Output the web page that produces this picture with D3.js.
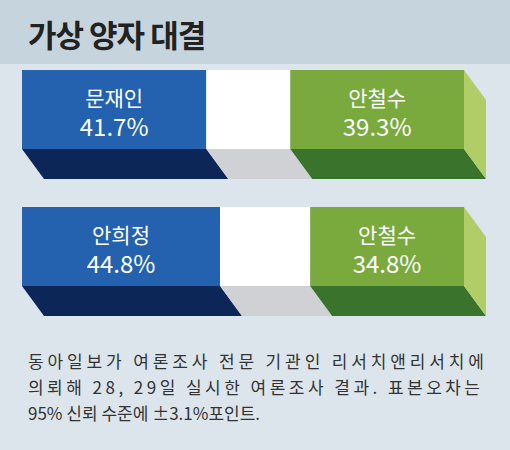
<!DOCTYPE html><html><head><meta charset="utf-8"><script src="https://cdn.jsdelivr.net/npm/d3@7"></script>
<style>body{margin:0}svg{display:block}</style></head><body><script>
const leftNames=["문재인","안희정"];
const leftValues=[41.7,44.8];
const rightNames=["안철수","안철수"];
const rightValues=[39.3,34.8];
const title="가상 양자 대결";
const notes=["동아일보가 여론조사 전문 기관인 리서치앤리서치에","의뢰해 28, 29일 실시한 여론조사 결과. 표본오차는","95% 신뢰 수준에 ±3.1%포인트."];
const noteWidths=[456,452,null];

const W=510,H=450;
const svg=d3.select("body").append("svg").attr("width",W).attr("height",H);
const font="'Noto Sans CJK KR','Noto Sans',sans-serif";
svg.append("rect").attr("width",W).attr("height",H).attr("fill","#dce5ec");
svg.append("rect").attr("width",W).attr("height",64).attr("fill","#c6d4de");
svg.append("text").attr("x",28).attr("y",47).text(title).attr("font-family",font)
  .attr("font-size",31).attr("font-weight",700).attr("fill","#222").attr("letter-spacing",-1);

const x=d3.scaleLinear().domain([0,100]).range([22,464]);
const y=d3.scalePoint().domain([0,1]).range([70,207]);
const dx=22,dy=30;
leftNames.forEach((n,i)=>{
  const top=y(i), fh=79, bot=top+fh;
  const segs=[
    {a:0,b:leftValues[i],f:"#2461ae",s:"#0c2658"},
    {a:leftValues[i],b:100-rightValues[i],f:"#ffffff",s:"#cfd1d4"},
    {a:100-rightValues[i],b:100,f:"#7aaa3e",s:"#3a732c"}];
  const g=svg.append("g");
  segs.forEach(s=>{
    const x0=x(s.a),x1=x(s.b);
    g.append("path").attr("d",`M${x0},${bot}L${x1},${bot}L${x1+dx},${bot+dy}L${x0+dx},${bot+dy}Z`).attr("fill",s.s);
    g.append("rect").attr("x",x0).attr("y",top).attr("width",x1-x0).attr("height",fh).attr("fill",s.f);
  });
  const xe=x(100);
  g.append("path").attr("d",`M${xe},${top}L${xe+dx},${top+dy}L${xe+dx},${bot+dy}L${xe},${bot}Z`).attr("fill","#b0cd67");
  const lab=(cx,name,val)=>{
    g.append("text").attr("x",cx).attr("y",top+36).attr("text-anchor","middle").text(name)
      .attr("font-family",font).attr("font-size",21).attr("fill","#fff");
    g.append("text").attr("x",cx).attr("y",top+66).attr("text-anchor","middle").text(val.toFixed(1)+"%")
      .attr("font-family",font).attr("font-size",24).attr("fill","#fff");
  };
  lab((x(0)+x(leftValues[i]))/2,n,leftValues[i]);
  lab((x(100-rightValues[i])+x(100))/2,rightNames[i],rightValues[i]);
});
notes.forEach((t,i)=>{
  const tx=svg.append("text").attr("x",28).attr("y",368+i*26).text(t)
    .attr("font-family",font).attr("font-size",17).attr("fill","#333");
  if(noteWidths[i]) tx.attr("textLength",noteWidths[i]).attr("lengthAdjust","spacing");
});
</script></body></html>
